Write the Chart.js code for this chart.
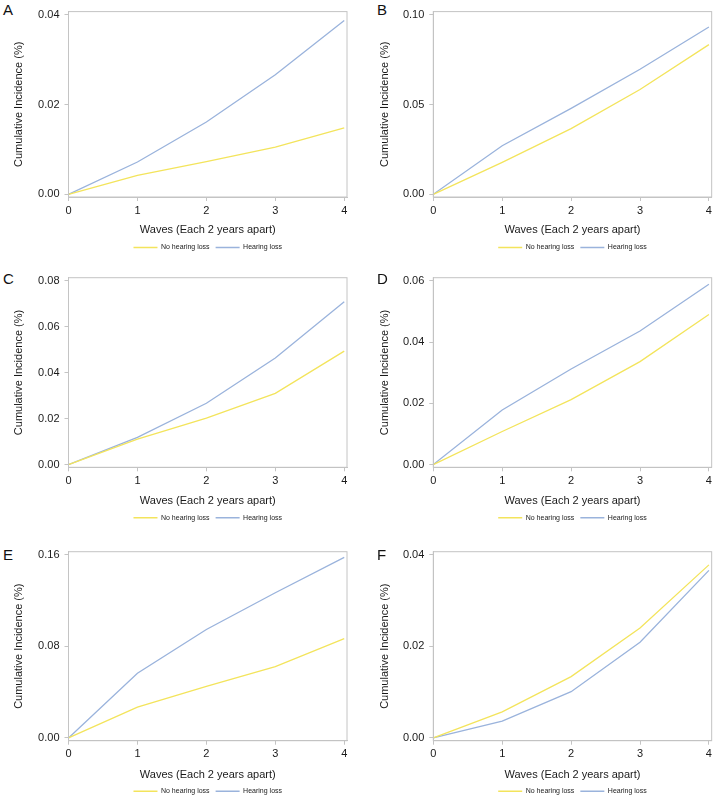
<!DOCTYPE html>
<html>
<head>
<meta charset="utf-8">
<script src="https://cdn.jsdelivr.net/npm/chart.js@4/dist/chart.umd.min.js"></script>
<style>
  html, body { margin: 0; padding: 0; background: #fff; overflow: hidden; }
  body { width: 715px; height: 797px; position: relative; }
  .cell { position: absolute; }
  .letter { position: absolute; font: 15px "Liberation Sans", Arial, sans-serif; line-height: 15px; color: #111; }
</style>
</head>
<body>
<script>
// data
const waves = [0, 1, 2, 3, 4];
const seriesNames = ['No hearing loss', 'Hearing loss'];
const panelLetters = ['A', 'B', 'C', 'D', 'E', 'F'];

const noLossA = [0, 0.0042, 0.0073, 0.0105, 0.0148];
const lossA = [0, 0.0072, 0.0161, 0.0266, 0.0387];
const noLossB = [0, 0.0178, 0.0366, 0.0583, 0.0833];
const lossB = [0, 0.0270, 0.0478, 0.0696, 0.0931];
const noLossC = [0, 0.0111, 0.0202, 0.0310, 0.0494];
const lossC = [0, 0.0118, 0.0267, 0.0464, 0.0709];
const noLossD = [0, 0.0108, 0.0212, 0.0336, 0.0490];
const lossD = [0, 0.0178, 0.0312, 0.0436, 0.0589];
const noLossE = [0, 0.0270, 0.0451, 0.0623, 0.0868];
const lossE = [0, 0.0566, 0.0948, 0.1269, 0.1577];
const noLossF = [0, 0.0057, 0.0134, 0.0240, 0.0378];
const lossF = [0, 0.0037, 0.0101, 0.0209, 0.0366];

const yTicksA = [0, 0.02, 0.04];
const yTicksB = [0, 0.05, 0.10];
const yTicksC = [0, 0.02, 0.04, 0.06, 0.08];
const yTicksD = [0, 0.02, 0.04, 0.06];
const yTicksE = [0, 0.08, 0.16];
const yTicksF = [0, 0.02, 0.04];

const panels = [
    { letter: panelLetters[0], noLoss: noLossA, loss: lossA, yTicks: yTicksA },
    { letter: panelLetters[1], noLoss: noLossB, loss: lossB, yTicks: yTicksB },
    { letter: panelLetters[2], noLoss: noLossC, loss: lossC, yTicks: yTicksC },
    { letter: panelLetters[3], noLoss: noLossD, loss: lossD, yTicks: yTicksD },
    { letter: panelLetters[4], noLoss: noLossE, loss: lossE, yTicks: yTicksE },
    { letter: panelLetters[5], noLoss: noLossF, loss: lossF, yTicks: yTicksF }
];

// layout of the 3x2 grid
const cols = [
    { left: 0, width: 357, axisW: 68.5, titlePad: 12, padRight: 10, letterX: 3 },
    { left: 357, width: 358, axisW: 76.3, titlePad: 21, padRight: 3, letterX: 377 }
];
const rows = [
    { top: 0, height: 262, areaTop: 6, areaBottom: 197, titlePadB: 1, letterY: 1.5 },
    { top: 260, height: 272, areaTop: 17.7, areaBottom: 207.3, titlePadB: 1, letterY: 271 },
    { top: 530, height: 285, areaTop: 21.7, areaBottom: 210.7, titlePadB: 0, letterY: 546.5 }
];

const YELLOW = '#f3e45c';
const BLUE = '#9ab3dc';
const FRAME = '#c4c4c4';
const TEXT = '#1a1a1a';
const FONT = '"Liberation Sans", Arial, sans-serif';

const framePlugin = {
    id: 'frame',
    afterDraw(chart) {
        const a = chart.chartArea;
        const ctx = chart.ctx;
        ctx.save();
        ctx.strokeStyle = FRAME;
        ctx.lineWidth = 1;
        ctx.strokeRect(a.left, a.top, a.right - a.left, a.bottom - a.top);
        ctx.restore();
    }
};

function makePanel(p, idx) {
    const col = cols[idx % 2];
    const row = rows[Math.floor(idx / 2)];

    const letter = document.createElement('div');
    letter.className = 'letter';
    letter.textContent = p.letter;
    letter.style.left = col.letterX + 'px';
    letter.style.top = row.letterY + 'px';
    document.body.appendChild(letter);

    const cell = document.createElement('div');
    cell.className = 'cell';
    cell.style.left = col.left + 'px';
    cell.style.top = row.top + 'px';
    cell.style.width = col.width + 'px';
    cell.style.height = row.height + 'px';
    const canvas = document.createElement('canvas');
    cell.appendChild(canvas);
    document.body.appendChild(cell);

    const yTop = p.yTicks[p.yTicks.length - 1];

    const chart = new Chart(canvas.getContext('2d'), {
        type: 'line',
        data: {
            datasets: [
                {
                    label: seriesNames[0],
                    data: waves.map((w, i) => ({ x: w, y: p.noLoss[i] })),
                    borderColor: YELLOW,
                    backgroundColor: YELLOW,
                    borderWidth: 1.3,
                    pointRadius: 0,
                    tension: 0
                },
                {
                    label: seriesNames[1],
                    data: waves.map((w, i) => ({ x: w, y: p.loss[i] })),
                    borderColor: BLUE,
                    backgroundColor: BLUE,
                    borderWidth: 1.3,
                    pointRadius: 0,
                    tension: 0
                }
            ]
        },
        options: {
            responsive: true,
            maintainAspectRatio: false,
            animation: false,
            layout: { padding: { top: row.areaTop, right: col.padRight, bottom: 0, left: 0 } },
            plugins: {
                tooltip: { enabled: false },
                legend: {
                    position: 'bottom',
                    fullSize: false,
                    labels: {
                        boxWidth: 24,
                        boxHeight: 1.5,
                        padding: 6,
                        color: TEXT,
                        font: { family: FONT, size: 7 },
                        generateLabels: chart => {
                            const items = Chart.defaults.plugins.legend.labels.generateLabels(chart);
                            items.forEach(it => { it.lineWidth = 0; });
                            return items;
                        }
                    }
                }
            },
            scales: {
                x: {
                    type: 'linear',
                    min: 0,
                    max: 4.04,
                    afterBuildTicks: s => { s.ticks = waves.map(v => ({ value: v })); },
                    afterFit: s => { s.height = 41; },
                    grid: { drawOnChartArea: false, drawTicks: true, tickLength: 4, color: FRAME },
                    border: { display: true, color: FRAME },
                    ticks: { color: TEXT, padding: 3, font: { family: FONT, size: 11 }, maxRotation: 0 },
                    title: {
                        display: true,
                        text: 'Waves (Each 2 years apart)',
                        color: TEXT,
                        font: { family: FONT, size: 11 },
                        padding: { top: 0, bottom: row.titlePadB }
                    }
                },
                y: {
                    min: -yTop * 0.015,
                    max: yTop * 1.017,
                    afterBuildTicks: s => { s.ticks = p.yTicks.map(v => ({ value: v })); },
                    afterFit: s => { s.width = col.axisW; },
                    grid: { drawOnChartArea: false, drawTicks: true, tickLength: 4, color: FRAME },
                    border: { display: true, color: FRAME },
                    ticks: {
                        color: TEXT,
                        padding: 5,
                        font: { family: FONT, size: 11 },
                        callback: v => Number(v).toFixed(2)
                    },
                    title: {
                        display: true,
                        text: 'Cumulative Incidence (%)',
                        color: TEXT,
                        font: { family: FONT, size: 11 },
                        padding: { top: col.titlePad, bottom: 0 }
                    }
                }
            }
        },
        plugins: [framePlugin]
    });

    // nudge the bottom padding so the plot frame lands where the picture has it
    const diff = chart.chartArea.bottom - row.areaBottom;
    chart.options.layout.padding.bottom = Math.max(0, diff);
    chart.update();
}

panels.forEach(makePanel);
</script>
</body>
</html>
